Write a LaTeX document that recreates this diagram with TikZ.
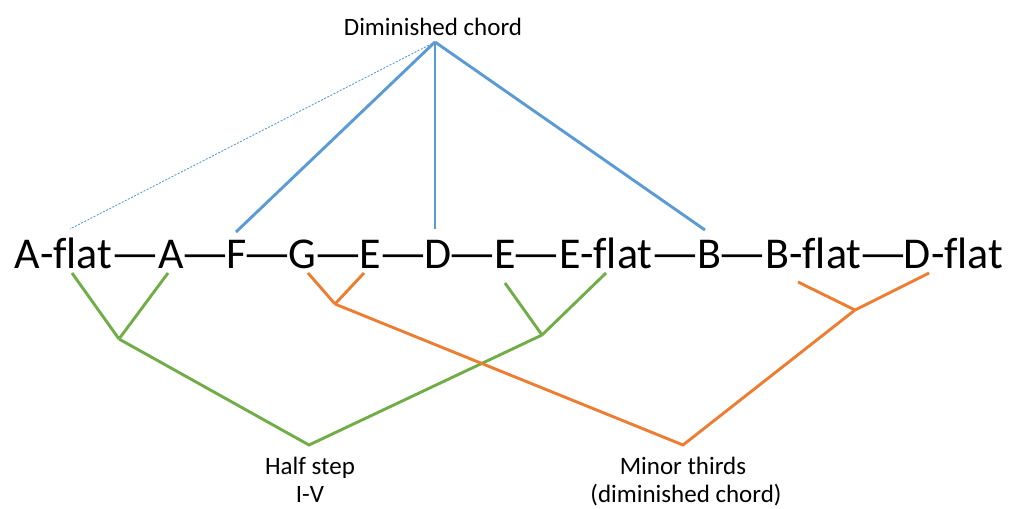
\documentclass[tikz,border=0pt]{standalone}
\usepackage{graphicx}
\usepackage{fontspec}
\setmainfont[Ligatures=NoCommon]{Carlito}
\definecolor{dblue}{HTML}{5B9BD5}
\definecolor{dgreen}{HTML}{70AD47}
\definecolor{dorange}{HTML}{ED7D31}
\newcommand{\longdash}{\scalebox{1.25}[1]{—}}
\begin{document}
\begin{tikzpicture}[x=1pt,y=-1pt,
  note/.style={inner sep=0pt, anchor=base, font=\fontsize{44}{52}\selectfont},
  lbl/.style={inner sep=0pt, anchor=base, font=\fontsize{25}{30}\selectfont},
  blueline/.style={draw=dblue, line width=2.9pt},
  dotline/.style={draw=dblue, line width=0.9pt, dash pattern=on 2pt off 1.5pt},
  greenline/.style={draw=dgreen, line width=2.9pt, line join=miter},
  orangeline/.style={draw=dorange, line width=2.9pt, line join=miter}]
\useasboundingbox (0,0) rectangle (1013,509);
% title
\node[lbl] (title) at (433,35) {Diminished chord};
\coordinate (apex) at (435,42);
% notes
\node[note] (aflat) at (63.5,268) {A-flat};
\node[note] (d1) at (135.5,268) {\longdash};
\node[note] (a) at (171.5,268) {A};
\node[note] (d2) at (205,268) {\longdash};
\node[note] (f) at (236.5,268) {F};
\node[note] (d3) at (267.5,268) {\longdash};
\node[note] (g) at (302.5,268) {G};
\node[note] (d4) at (338.5,268) {\longdash};
\node[note] (e1) at (370,268) {E};
\node[note] (d5) at (403.5,268) {\longdash};
\node[note] (d) at (438.5,268) {D};
\node[note] (d6) at (472.5,268) {\longdash};
\node[note] (e2) at (505,268) {E};
\node[note] (d7) at (536.5,268) {\longdash};
\node[note] (eflat) at (606,268) {E-flat};
\node[note] (d8) at (675,268) {\longdash};
\node[note] (b) at (709.5,268) {B};
\node[note] (d9) at (742.5,268) {\longdash};
\node[note] (bflat) at (813.5,268) {B-flat};
\node[note] (d10) at (883.5,268) {\longdash};
\node[note] (dflat) at (953.5,268) {D-flat};
% bottom labels
\node[lbl] (hs1) at (310,474) {Half step};
\node[lbl] (hs2) at (310,502) {I-V};
\node[lbl] (mt1) at (683,474) {Minor thirds};
\node[lbl] (mt2) at (686,502) {(diminished chord)};
% connector end points
\coordinate (fT) at (236,232);
\coordinate (dT) at (435,229);
\coordinate (bT) at (705,230);
\coordinate (aflatT) at (70,229);
\coordinate (aflatB) at (72,273);
\coordinate (aB) at (168,273);
\coordinate (e2B) at (505,283);
\coordinate (eflatB) at (606,273);
\coordinate (gB) at (308,273);
\coordinate (e1B) at (364,273);
\coordinate (bflatB) at (798,282);
\coordinate (dflatB) at (929,273);
\coordinate (gv1) at (119,339);
\coordinate (gv2) at (542,335);
\coordinate (gapex) at (309,445);
\coordinate (ov1) at (335,304);
\coordinate (ov2) at (855,310);
\coordinate (oapex) at (683,445);
% blue
\draw[dotline] (apex) -- (aflatT);
\draw[blueline] (apex) -- (fT);
\draw[blueline] (apex) -- (dT);
\draw[blueline] (apex) -- (bT);
% green
\draw[greenline] (aflatB) -- (gv1);
\draw[greenline] (aB) -- (gv1);
\draw[greenline] (gv1) -- (gapex) -- (gv2);
\draw[greenline] (e2B) -- (gv2);
\draw[greenline] (eflatB) -- (gv2);
% orange
\draw[orangeline] (gB) -- (ov1);
\draw[orangeline] (e1B) -- (ov1);
\draw[orangeline] (ov1) -- (oapex) -- (ov2);
\draw[orangeline] (bflatB) -- (ov2);
\draw[orangeline] (dflatB) -- (ov2);
\end{tikzpicture}
\end{document}
